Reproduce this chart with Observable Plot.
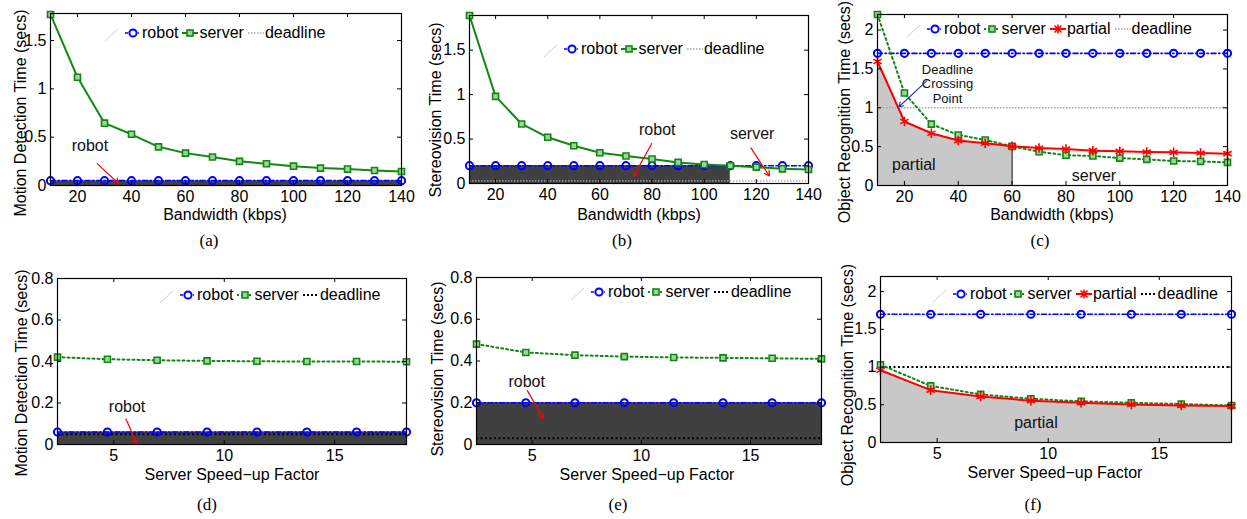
<!DOCTYPE html>
<html><head><meta charset="utf-8">
<script src="https://cdn.jsdelivr.net/npm/d3@7"></script>
<script src="https://cdn.jsdelivr.net/npm/@observablehq/plot@0.6"></script>
<style>
body{margin:0;background:#fff;}
#fig{position:relative;width:1247px;height:519px;overflow:hidden;background:#fff;font-family:"Liberation Sans",Arial,sans-serif;color:#000;}
.ylab{position:absolute;white-space:nowrap;font-size:16px;line-height:16px;transform:translate(-50%,-50%) rotate(-90deg);}
.xlab{position:absolute;white-space:nowrap;font-size:16px;line-height:13px;transform:translate(-50%,-50%);}
.cap{position:absolute;font-family:"Liberation Serif","Times New Roman",serif;font-size:17px;transform:translate(-50%,-50%);}
.legend{position:absolute;display:flex;align-items:center;white-space:nowrap;font-size:16px;height:18px;transform:translateY(-50%);}
.legend .it{display:flex;align-items:center;margin-right:4px;}
.legend svg{display:block;}
</style></head><body><div id="fig"></div>
<script>
// ---------- data ----------
const bandwidth = [10,20,30,40,50,60,70,80,90,100,110,120,130,140];
const motionServerBW = [1.77,1.12,0.645,0.53,0.40,0.335,0.295,0.25,0.225,0.20,0.18,0.17,0.155,0.145];
const motionRobotBW  = [0.05,0.05,0.05,0.05,0.05,0.05,0.05,0.05,0.05,0.05,0.05,0.05,0.05,0.05];
const motionDeadlineBW = 0.05;
const stereoServerBW = [1.89,0.98,0.67,0.52,0.425,0.346,0.31,0.275,0.237,0.214,0.2,0.184,0.165,0.158];
const stereoRobotBW  = [0.2,0.2,0.2,0.2,0.2,0.2,0.2,0.2,0.2,0.2,0.2,0.2,0.2,0.2];
const stereoDeadlineBW = 0.03;
const robotRegionEndB = 110;
const objServerBW  = [2.2,1.19,0.79,0.65,0.586,0.504,0.435,0.39,0.38,0.353,0.336,0.315,0.31,0.297];
const objPartialBW = [1.595,0.823,0.672,0.578,0.543,0.504,0.483,0.47,0.448,0.44,0.431,0.427,0.418,0.41];
const objRobotBW   = [1.7,1.7,1.7,1.7,1.7,1.7,1.7,1.7,1.7,1.7,1.7,1.7,1.7,1.7];
const objDeadlineBW = 1.0;
const partialRegionEndC = 60;

const speedup = [2.45,4.71,6.96,9.22,11.48,13.74,15.99,18.25];
const motionServerSU = [0.421,0.411,0.406,0.403,0.401,0.400,0.400,0.399];
const motionRobotSU  = [0.06,0.06,0.06,0.06,0.06,0.06,0.06,0.06];
const motionDeadlineSU = 0.05;
const stereoServerSU = [0.481,0.441,0.428,0.421,0.417,0.415,0.413,0.41];
const stereoRobotSU  = [0.2,0.2,0.2,0.2,0.2,0.2,0.2,0.2];
const stereoDeadlineSU = 0.03;
const objServerSU  = [1.03,0.75,0.637,0.58,0.545,0.527,0.51,0.49];
const objPartialSU = [0.958,0.694,0.61,0.554,0.527,0.505,0.49,0.483];
const objRobotSU   = [1.7,1.7,1.7,1.7,1.7,1.7,1.7,1.7];
const objDeadlineSU = 1.0;

const bwTicks = [20,40,60,80,100,120,140];
const suTicks = [5,10,15];
const yTicksBig = [0,0.5,1,1.5];
const yTicksObj = [0,0.5,1,1.5,2];
const yTicksSmall = [0,0.2,0.4,0.6,0.8];

// annotations (data coordinates)
const annotA = [{x:24.6,y:0.405,text:"robot"}];
const arrowA = [{x1:27.3,y1:0.226,x2:35.3,y2:0.018}];
const annotB = [{x:82,y:0.6,text:"robot"},{x:118.4,y:0.56,text:"server"}];
const arrowB = [{x1:79.9,y1:0.45,x2:72.9,y2:0.08},{x1:117.9,y1:0.4,x2:125,y2:0.085}];
const annotC = [{x:23.5,y:0.27,text:"partial"},{x:90.4,y:0.13,text:"server"}];
const annotC2 = [{x:36,y:1.31,text:"Deadline\nCrossing\nPoint"}];
const arrowC = [{x1:28.4,y1:1.35,x2:17.9,y2:1.01}];
const annotD = [{x:5.6,y:0.18,text:"robot"}];
const arrowD = [{x1:5.55,y1:0.123,x2:6.04,y2:0.005}];
const annotE = [{x:4.75,y:0.3,text:"robot"}];
const arrowE = [{x1:4.78,y1:0.258,x2:5.5,y2:0.125}];
const annotF = [{x:9.45,y:0.26,text:"partial"}];

// ---------- styles ----------
const BLUE = "#0000ff", GREEN = "#118811", RED = "#ff0000", DARK = "#404040", LIGHT = "#c8c8c8";
const FONT = '"Liberation Sans", Arial, sans-serif';
const rows = (xs, ys) => xs.map((x, i) => ({x, y: ys[i]}));

const fig = document.getElementById("fig");

function robotMarks(data) {
  return [
    Plot.line(data, {x:"x", y:"y", stroke:BLUE, strokeWidth:1.6, strokeDasharray:"5,2.5,1.5,2.5"}),
    Plot.dot(data, {x:"x", y:"y", symbol:"circle", r:3.6, stroke:BLUE, strokeWidth:2, fill:"none"})
  ];
}
function serverMarks(data, dotted) {
  return [
    Plot.line(data, {x:"x", y:"y", stroke:GREEN, strokeWidth:2, strokeDasharray: dotted ? "2,3" : null}),
    Plot.dot(data, {x:"x", y:"y", symbol:"square", r:3.4, stroke:GREEN, strokeWidth:1.6, fill:"#9fd49f"})
  ];
}
function partialMarks(data) {
  return [
    Plot.line(data, {x:"x", y:"y", stroke:RED, strokeWidth:2}),
    Plot.dot(data, {x:"x", y:"y", symbol:"asterisk", r:4.5, stroke:RED, strokeWidth:1.6})
  ];
}
function deadlineMark(v, black) {
  return Plot.ruleY([v], {stroke: black ? "#000" : "#a8a8a8", strokeWidth: black ? 2 : 1.4, strokeDasharray: black ? "2,2.5" : "1.5,1.5"});
}

function panel(cfg) {
  const mL = 44, mR = 20, mT = 12, mB = 30, TL = 4;
  const [x0, y0, x1, y1] = cfg.frame;
  const fw = x1 - x0, fh = y1 - y0;
  const W = fw + mL + mR, H = fh + mT + mB;
  const marks = [
    ...cfg.marks,
    Plot.frame({stroke:"#000", strokeWidth:1.2}),
    Plot.tickY(cfg.yTicks, {y:d=>d, insetRight: fw - TL, stroke:"#000"}),
    Plot.tickY(cfg.yTicks, {y:d=>d, insetLeft: fw - TL, stroke:"#000"}),
    Plot.tickX(cfg.xTicks, {x:d=>d, insetTop: fh - TL, stroke:"#000"}),
    Plot.tickX(cfg.xTicks, {x:d=>d, insetBottom: fh - TL, stroke:"#000"}),
    Plot.axisX(cfg.xTicks, {anchor:"bottom", tickSize:0, tickPadding:5, label:null, tickFormat:d=>String(d)}),
    Plot.axisY(cfg.yTicks, {anchor:"left", tickSize:0, tickPadding:4, label:null, tickFormat:d=>String(d)})
  ];
  const svg = Plot.plot({
    width: W, height: H, marginLeft: mL, marginRight: mR, marginTop: mT, marginBottom: mB,
    x: {domain: cfg.xDomain}, y: {domain: cfg.yDomain},
    style: {fontFamily: FONT, fontSize: "16px", background: "transparent", color: "#000", overflow: "visible"},
    marks
  });
  svg.style.position = "absolute";
  svg.style.left = (x0 - mL) + "px";
  svg.style.top = (y0 - mT) + "px";
  fig.appendChild(svg);

  const yl = document.createElement("div");
  yl.className = "ylab"; yl.textContent = cfg.ylabel;
  yl.style.left = cfg.ylabPos[0] + "px"; yl.style.top = cfg.ylabPos[1] + "px";
  fig.appendChild(yl);
  const xl = document.createElement("div");
  xl.className = "xlab"; xl.textContent = cfg.xlabel;
  xl.style.left = cfg.xlabPos[0] + "px"; xl.style.top = (cfg.xlabPos[1] + 4) + "px";
  fig.appendChild(xl);
  const cp = document.createElement("div");
  cp.className = "cap"; cp.textContent = cfg.caption;
  cp.style.left = cfg.capPos[0] + "px"; cp.style.top = cfg.capPos[1] + "px";
  fig.appendChild(cp);

  // legend
  const lg = document.createElement("div");
  lg.className = "legend";
  lg.style.left = cfg.legendPos[0] + "px"; lg.style.top = cfg.legendPos[1] + "px";
  for (const item of cfg.legend) {
    const it = document.createElement("div");
    it.className = "it";
    it.innerHTML = swatch(item.kind, item.style) + `<span style="margin-left:1px">${item.label}</span>`;
    lg.appendChild(it);
  }
  fig.appendChild(lg);
  // faint stray stroke left of legend (as in the reference)
  const ns = "http://www.w3.org/2000/svg";
  const s = document.createElementNS(ns, "svg");
  s.setAttribute("width", 20); s.setAttribute("height", 16);
  s.style.position = "absolute";
  s.style.left = (cfg.legendPos[0] - 22) + "px"; s.style.top = (cfg.legendPos[1] - 6) + "px";
  s.innerHTML = `<line x1="2" y1="14" x2="15" y2="2" stroke="#d0d0d0" stroke-width="1"/>`;
  fig.appendChild(s);
}

function swatch(kind, style) {
  let inner = "";
  if (kind === "robot") {
    inner = `<line x1="0" y1="6" x2="16" y2="6" stroke="${BLUE}" stroke-width="1.6" stroke-dasharray="3,2,1,2"/>` +
            `<circle cx="8" cy="6" r="3.6" fill="white" stroke="${BLUE}" stroke-width="2"/>`;
  } else if (kind === "server") {
    inner = `<line x1="0" y1="6" x2="16" y2="6" stroke="${GREEN}" stroke-width="2" ${style === "dotted" ? 'stroke-dasharray="2,2"' : ""}/>` +
            `<rect x="5" y="3" width="6" height="6" fill="#9fd49f" stroke="${GREEN}" stroke-width="1.6"/>`;
  } else if (kind === "partial") {
    inner = `<line x1="0" y1="6" x2="16" y2="6" stroke="${RED}" stroke-width="2"/>` +
            `<path d="M4.5,2.5L11.5,9.5M11.5,2.5L4.5,9.5M8,1.5L8,10.5" stroke="${RED}" stroke-width="1.6"/>`;
  } else {
    const black = style === "black";
    inner = `<line x1="0" y1="6" x2="16" y2="6" stroke="${black ? "#000" : "#a8a8a8"}" stroke-width="${black ? 2 : 1.4}" stroke-dasharray="${black ? "2,2" : "1.5,1.5"}"/>`;
  }
  return `<svg width="16" height="12" viewBox="0 0 16 12">${inner}</svg>`;
}

// ---------- panels ----------
const aRobot = rows(bandwidth, motionRobotBW), aServer = rows(bandwidth, motionServerBW);
panel({
  frame:[50,13,401,185], xDomain:[10,140], yDomain:[0,1.78], xTicks:bwTicks, yTicks:yTicksBig,
  ylabel:"Motion Detection Time (secs)", ylabPos:[21,113], xlabel:"Bandwidth (kbps)", xlabPos:[225,210],
  caption:"(a)", capPos:[209,241], legendPos:[125,33],
  legend:[{kind:"robot",label:"robot"},{kind:"server",style:"solid",label:"server"},{kind:"deadline",style:"gray",label:"deadline"}],
  marks:[
    Plot.areaY(aRobot, {x:"x", y:"y", fill:DARK}),
    deadlineMark(motionDeadlineBW, false),
    ...robotMarks(aRobot), ...serverMarks(aServer, false),
    Plot.text(annotA, {x:"x", y:"y", text:"text", fontSize:16, fill:"#111"}),
    Plot.arrow(arrowA, {x1:"x1", y1:"y1", x2:"x2", y2:"y2", stroke:RED, strokeWidth:1.2, headLength:7})
  ]
});

const bRobot = rows(bandwidth, stereoRobotBW), bServer = rows(bandwidth, stereoServerBW);
panel({
  frame:[469,15,808,183], xDomain:[10,140], yDomain:[0,1.89], xTicks:bwTicks, yTicks:yTicksBig,
  ylabel:"Stereovision Time (secs)", ylabPos:[436,110], xlabel:"Bandwidth (kbps)", xlabPos:[639,210],
  caption:"(b)", capPos:[622,241], legendPos:[564,49],
  legend:[{kind:"robot",label:"robot"},{kind:"server",style:"solid",label:"server"},{kind:"deadline",style:"gray",label:"deadline"}],
  marks:[
    Plot.areaY(bRobot.filter(d => d.x <= robotRegionEndB), {x:"x", y:"y", fill:DARK}),
    deadlineMark(stereoDeadlineBW, false),
    ...robotMarks(bRobot), ...serverMarks(bServer, false),
    Plot.text(annotB, {x:"x", y:"y", text:"text", fontSize:16, fill:"#111"}),
    Plot.arrow(arrowB, {x1:"x1", y1:"y1", x2:"x2", y2:"y2", stroke:RED, strokeWidth:1.2, headLength:7})
  ]
});

const cRobot = rows(bandwidth, objRobotBW), cServer = rows(bandwidth, objServerBW), cPartial = rows(bandwidth, objPartialBW);
panel({
  frame:[877,14,1227,185], xDomain:[10,140], yDomain:[0,2.2], xTicks:bwTicks, yTicks:yTicksObj,
  ylabel:"Object Recognition Time (secs)", ylabPos:[845,112], xlabel:"Bandwidth (kbps)", xlabPos:[1052,210],
  caption:"(c)", capPos:[1040,241], legendPos:[927,29],
  legend:[{kind:"robot",label:"robot"},{kind:"server",style:"dotted",label:"server"},{kind:"partial",label:"partial"},{kind:"deadline",style:"gray",label:"deadline"}],
  marks:[
    Plot.areaY(cPartial.filter(d => d.x <= partialRegionEndC), {x:"x", y:"y", fill:LIGHT}),
    Plot.ruleX(cPartial.filter(d => d.x === partialRegionEndC), {x:"x", y1:0, y2:"y", stroke:"#000", strokeWidth:1}),
    deadlineMark(objDeadlineBW, false),
    ...robotMarks(cRobot), ...serverMarks(cServer, true), ...partialMarks(cPartial),
    Plot.text(annotC, {x:"x", y:"y", text:"text", fontSize:16, fill:"#111"}),
    Plot.text(annotC2, {x:"x", y:"y", text:"text", fontSize:13, lineHeight:1.15, fill:"#111"}),
    Plot.arrow(arrowC, {x1:"x1", y1:"y1", x2:"x2", y2:"y2", stroke:"#2233aa", strokeWidth:1.1, headLength:7})
  ]
});

const dRobot = rows(speedup, motionRobotSU), dServer = rows(speedup, motionServerSU);
panel({
  frame:[57,278,406,444], xDomain:[speedup[0], speedup[speedup.length-1]], yDomain:[0,0.8], xTicks:suTicks, yTicks:yTicksSmall,
  ylabel:"Motion Detection Time (secs)", ylabPos:[22,373], xlabel:"Server Speed\u2212up Factor", xlabPos:[232,470],
  caption:"(d)", capPos:[207,505], legendPos:[180,295],
  legend:[{kind:"robot",label:"robot"},{kind:"server",style:"dotted",label:"server"},{kind:"deadline",style:"black",label:"deadline"}],
  marks:[
    Plot.areaY(dRobot, {x:"x", y:"y", fill:DARK}),
    deadlineMark(motionDeadlineSU, true),
    ...robotMarks(dRobot), ...serverMarks(dServer, true),
    Plot.text(annotD, {x:"x", y:"y", text:"text", fontSize:16, fill:"#111"}),
    Plot.arrow(arrowD, {x1:"x1", y1:"y1", x2:"x2", y2:"y2", stroke:RED, strokeWidth:1.2, headLength:7})
  ]
});

const eRobot = rows(speedup, stereoRobotSU), eServer = rows(speedup, stereoServerSU);
panel({
  frame:[476,277,821,444], xDomain:[speedup[0], speedup[speedup.length-1]], yDomain:[0,0.8], xTicks:suTicks, yTicks:yTicksSmall,
  ylabel:"Stereovision Time (secs)", ylabPos:[438,369], xlabel:"Server Speed\u2212up Factor", xlabPos:[647,470],
  caption:"(e)", capPos:[618,505], legendPos:[591,292],
  legend:[{kind:"robot",label:"robot"},{kind:"server",style:"dotted",label:"server"},{kind:"deadline",style:"black",label:"deadline"}],
  marks:[
    Plot.areaY(eRobot, {x:"x", y:"y", fill:DARK}),
    deadlineMark(stereoDeadlineSU, true),
    ...robotMarks(eRobot), ...serverMarks(eServer, true),
    Plot.text(annotE, {x:"x", y:"y", text:"text", fontSize:16, fill:"#111"}),
    Plot.arrow(arrowE, {x1:"x1", y1:"y1", x2:"x2", y2:"y2", stroke:RED, strokeWidth:1.2, headLength:7})
  ]
});

const fRobot = rows(speedup, objRobotSU), fServer = rows(speedup, objServerSU), fPartial = rows(speedup, objPartialSU);
panel({
  frame:[880,276,1231,442], xDomain:[speedup[0], speedup[speedup.length-1]], yDomain:[0,2.2], xTicks:suTicks, yTicks:yTicksObj,
  ylabel:"Object Recognition Time (secs)", ylabPos:[848,375], xlabel:"Server Speed\u2212up Factor", xlabPos:[1055,468],
  caption:"(f)", capPos:[1033,505], legendPos:[953,294],
  legend:[{kind:"robot",label:"robot"},{kind:"server",style:"dotted",label:"server"},{kind:"partial",label:"partial"},{kind:"deadline",style:"black",label:"deadline"}],
  marks:[
    Plot.areaY(fPartial, {x:"x", y:"y", fill:LIGHT}),
    deadlineMark(objDeadlineSU, true),
    ...robotMarks(fRobot), ...serverMarks(fServer, true), ...partialMarks(fPartial),
    Plot.text(annotF, {x:"x", y:"y", text:"text", fontSize:16, fill:"#111"})
  ]
});
</script></body></html>
